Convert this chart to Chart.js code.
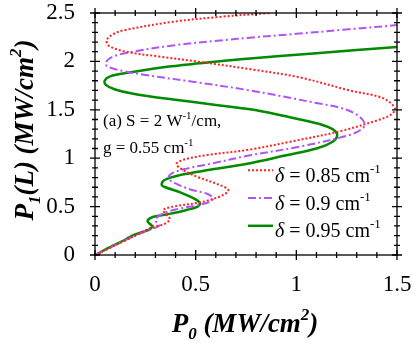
<!DOCTYPE html>
<html>
<head>
<meta charset="utf-8">
<script src="https://cdn.jsdelivr.net/npm/chart.js@4/dist/chart.umd.min.js"></script>
<style>
  html, body { margin: 0; padding: 0; background: #fff; }
  #dashi { width: 415px; height: 350px; }
</style>
</head>
<body>
<div id="dashi"><canvas id="plot" width="415" height="350"></canvas></div>
<script>
// values, P0 (x) and P1(L) (y) in MW/cm^2, following each curve from the origin
const deltas = ['0.85', '0.9', '0.95']

const p0_085 = [0, 0.07, 0.14, 0.22, 0.289, 0.339, 0.372, 0.356, 0.339, 0.389, 0.537, 0.637, 0.662, 0.62, 0.505, 0.42, 0.405, 0.45, 0.55, 0.77, 0.97, 1.22, 1.40, 1.47, 1.49, 1.43, 1.265, 1.017, 0.77, 0.52, 0.32, 0.155, 0.07, 0.058, 0.09, 0.14, 0.39, 0.62, 0.868]
const p1_085 = [0, 0.07, 0.14, 0.22, 0.292, 0.315, 0.368, 0.413, 0.465, 0.50, 0.55, 0.62, 0.67, 0.723, 0.81, 0.90, 0.945, 0.99, 1.03, 1.09, 1.17, 1.28, 1.39, 1.45, 1.515, 1.62, 1.70, 1.835, 1.92, 1.995, 2.05, 2.10, 2.16, 2.22, 2.28, 2.32, 2.41, 2.46, 2.5]

const p0_09 = [0, 0.06, 0.12, 0.18, 0.24, 0.27, 0.32, 0.30, 0.33, 0.40, 0.50, 0.57, 0.587, 0.56, 0.47, 0.40, 0.365, 0.38, 0.45, 0.57, 0.77, 1.017, 1.265, 1.33, 1.34, 1.30, 1.22, 1.10, 0.77, 0.486, 0.25, 0.12, 0.06, 0.053, 0.09, 0.19, 0.387, 0.64, 0.77, 1.0, 1.25, 1.5]
const p1_09 = [0, 0.06, 0.125, 0.18, 0.235, 0.26, 0.305, 0.36, 0.42, 0.47, 0.51, 0.55, 0.586, 0.63, 0.68, 0.74, 0.79, 0.84, 0.89, 0.94, 1.03, 1.12, 1.24, 1.31, 1.36, 1.45, 1.52, 1.57, 1.70, 1.79, 1.86, 1.91, 1.95, 1.99, 2.05, 2.10, 2.165, 2.22, 2.245, 2.285, 2.33, 2.375]

const p0_095 = [0, 0.089, 0.147, 0.19, 0.24, 0.275, 0.283, 0.265, 0.262, 0.29, 0.37, 0.455, 0.51, 0.521, 0.495, 0.42, 0.35, 0.331, 0.345, 0.42, 0.57, 0.75, 0.95, 1.10, 1.18, 1.203, 1.18, 1.12, 1.02, 0.90, 0.77, 0.62, 0.47, 0.32, 0.19, 0.10, 0.055, 0.048, 0.075, 0.17, 0.34, 0.52, 0.77, 1.1, 1.5]
const p1_095 = [0, 0.096, 0.155, 0.205, 0.24, 0.27, 0.30, 0.335, 0.36, 0.395, 0.425, 0.465, 0.50, 0.534, 0.58, 0.65, 0.70, 0.725, 0.775, 0.825, 0.88, 0.94, 1.03, 1.10, 1.17, 1.24, 1.30, 1.35, 1.40, 1.455, 1.505, 1.545, 1.585, 1.625, 1.665, 1.71, 1.755, 1.80, 1.845, 1.885, 1.94, 1.98, 2.03, 2.085, 2.15]

const xTicks = [0, 0.5, 1, 1.5]
const xTickLabels = ['0', '0.5', '1', '1.5']
const yTicks = [0, 0.5, 1, 1.5, 2, 2.5]
const yTickLabels = ['0', '0.5', '1', '1.5', '2', '2.5']

const serif = "'Liberation Serif', 'Times New Roman', serif"
Chart.defaults.font.family = serif

function toPoints(xs, ys){
    return xs.map((x, i) => ({x: x, y: ys[i]}))
}

function partsWidth(ctx, parts){
    let w = 0
    parts.forEach(p => { ctx.font = p[1]; w += ctx.measureText(p[0]).width })
    return w
}

function drawParts(ctx, parts, x, y){
    parts.forEach(p => {
        ctx.font = p[1]
        ctx.fillText(p[0], x, y + p[2])
        x += ctx.measureText(p[0]).width
    })
}

// frame with ticks crossing every side, plus titles, note and legend
const decorPlugin = {
    id: 'decor',
    afterDraw(chart){
        const ctx = chart.ctx
        const a = chart.chartArea
        const xs = chart.scales.x, ys = chart.scales.y
        ctx.save()
        ctx.strokeStyle = '#000'
        ctx.lineWidth = 1.3
        ctx.strokeRect(a.left, a.top, a.right - a.left, a.bottom - a.top)
        for (let i = 0; i <= 15; i++){
            const px = xs.getPixelForValue(i / 10)
            const len = i % 5 == 0 ? 5 : 3
            ctx.beginPath()
            ctx.moveTo(px, a.bottom - len); ctx.lineTo(px, a.bottom + len)
            ctx.moveTo(px, a.top - len); ctx.lineTo(px, a.top + len)
            ctx.stroke()
        }
        for (let i = 0; i <= 25; i++){
            const py = ys.getPixelForValue(i / 10)
            const len = i % 5 == 0 ? 5 : 3
            ctx.beginPath()
            ctx.moveTo(a.left - len, py); ctx.lineTo(a.left + len, py)
            ctx.moveTo(a.right - len, py); ctx.lineTo(a.right + len, py)
            ctx.stroke()
        }

        ctx.fillStyle = '#000'
        ctx.textBaseline = 'alphabetic'
        ctx.textAlign = 'left'
        const big = 'italic bold 27px ' + serif
        const small = 'italic bold 17px ' + serif

        const xTitle = [['P', big, 0], ['0', small, 7], [' (MW/cm', big, 0], ['2', small, -12], [')', big, 0]]
        drawParts(ctx, xTitle, 245 - partsWidth(ctx, xTitle) / 2, 332)

        const yTitle = [['P', big, 0], ['1', small, 7], ['(L) (MW/cm', big, 0], ['2', small, -12], [')', big, 0]]
        ctx.save()
        ctx.translate(33, 130)
        ctx.rotate(-Math.PI / 2)
        drawParts(ctx, yTitle, -partsWidth(ctx, yTitle) / 2, 0)
        ctx.restore()

        const f = '17px ' + serif, fs = '11px ' + serif
        drawParts(ctx, [['(a) S = 2 W', f, 0], ['-1', fs, -7], ['/cm,', f, 0]], 103, 126)
        drawParts(ctx, [['g = 0.55 cm', f, 0], ['-1', fs, -7]], 103, 153)

        const lf = '20px ' + serif, lfi = 'italic 20px ' + serif, lfs = '13px ' + serif
        chart.data.datasets.forEach((ds, i) => {
            const base = 181.7 + i * 27.8
            ctx.save()
            ctx.strokeStyle = ds.borderColor
            ctx.lineWidth = ds.borderWidth
            ctx.setLineDash(ds.borderDash || [])
            ctx.beginPath()
            ctx.moveTo(248, base - 11.5); ctx.lineTo(273, base - 11.5)
            ctx.stroke()
            ctx.restore()
            drawParts(ctx, [['δ', lfi, 0], [' = ' + deltas[i] + ' cm', lf, 0], ['-1', lfs, -9]], 275, base)
        })
        ctx.restore()
    }
}

function createChart(){
    const config = {
        type: 'scatter',
        data: {
            datasets: [
                {label: deltas[0], data: toPoints(p0_085, p1_085), showLine: true, borderColor: '#ff2020', borderWidth: 2, borderDash: [2, 2], pointRadius: 0, tension: 0.35},
                {label: deltas[1], data: toPoints(p0_09, p1_09), showLine: true, borderColor: '#b055f5', borderWidth: 2, borderDash: [8, 3, 2, 3], pointRadius: 0, tension: 0.35},
                {label: deltas[2], data: toPoints(p0_095, p1_095), showLine: true, borderColor: '#008a00', borderWidth: 2.5, pointRadius: 0, tension: 0.35}
            ]
        },
        options: {
            responsive: false,
            animation: false,
            devicePixelRatio: 1,
            layout: { padding: { left: 0, right: 18, top: 13, bottom: 0 } },
            plugins: { legend: { display: false }, tooltip: { enabled: false } },
            scales: {
                x: {
                    type: 'linear', min: 0, max: 1.5,
                    grid: { display: false }, border: { display: false },
                    afterBuildTicks: s => { s.ticks = xTicks.map(v => ({value: v})) },
                    afterFit: s => { s.height = 95; s.paddingLeft = 0; s.paddingRight = 0 },
                    ticks: { color: '#000', padding: 8, maxRotation: 0, font: { family: serif, size: 23 },
                        callback: (v, i) => xTickLabels[i] }
                },
                y: {
                    type: 'linear', min: 0, max: 2.5,
                    grid: { display: false }, border: { display: false },
                    afterBuildTicks: s => { s.ticks = yTicks.map(v => ({value: v})) },
                    afterFit: s => { s.width = 95; s.paddingTop = 0; s.paddingBottom = 0 },
                    ticks: { color: '#000', padding: 12, font: { family: serif, size: 23 },
                        callback: (v, i) => yTickLabels[i] }
                }
            }
        },
        plugins: [decorPlugin]
    }
    new Chart(document.getElementById('plot'), config)
}

createChart()
</script>
</body>
</html>
